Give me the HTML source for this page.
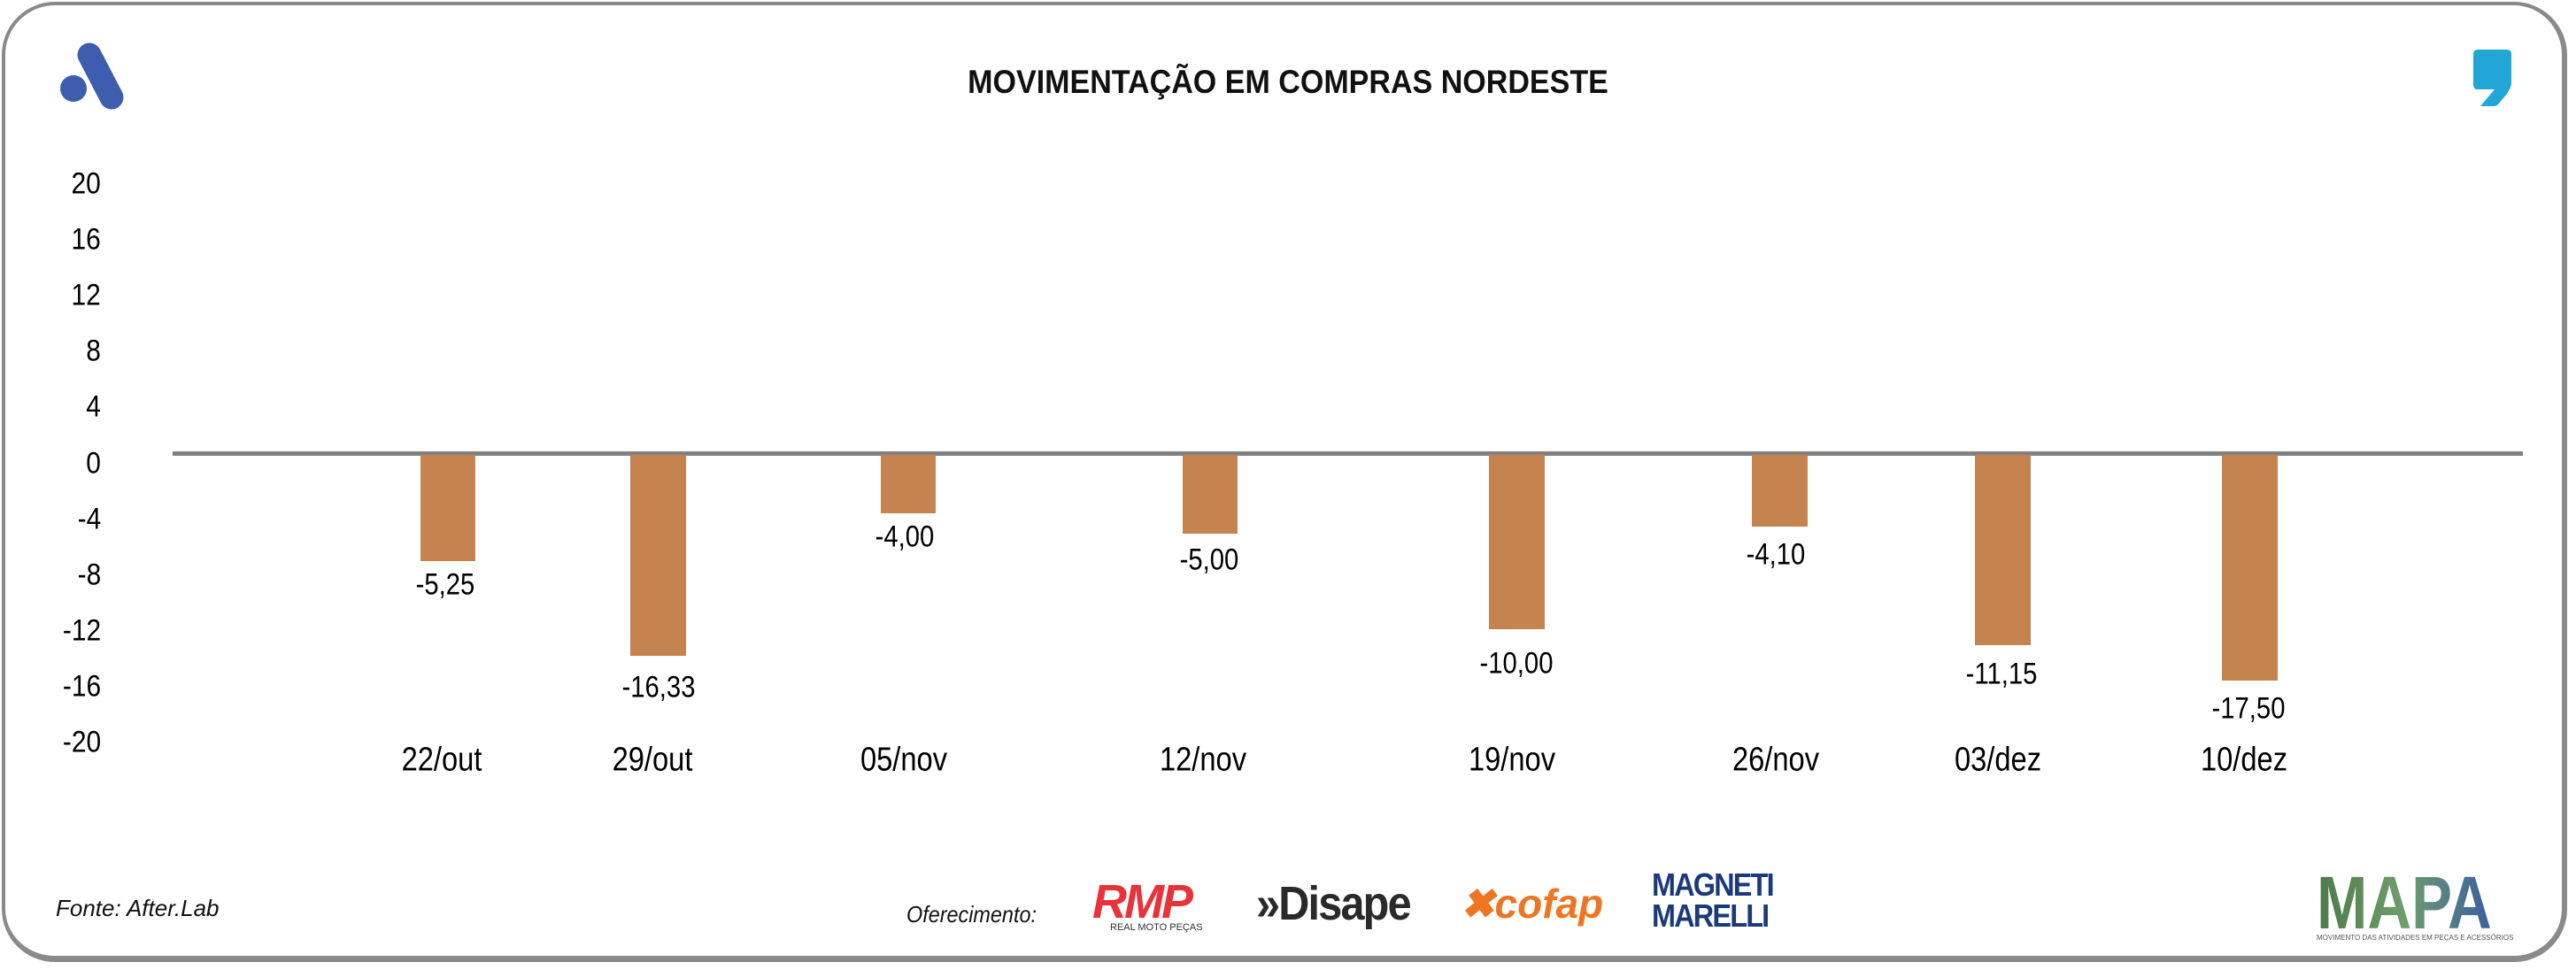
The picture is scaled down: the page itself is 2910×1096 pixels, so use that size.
<!DOCTYPE html>
<html><head><meta charset="utf-8"><style>
html,body{margin:0;padding:0;background:#fff;}
body{width:2910px;height:1096px;position:relative;overflow:hidden;font-family:"Liberation Sans Narrow","Liberation Sans",sans-serif;}
.frame{position:absolute;left:2px;top:2px;width:2898px;height:1085px;border:4px solid #8a8a8a;border-radius:60px;box-sizing:border-box;border-right-width:6px;border-bottom-width:7px;}
.t{position:absolute;white-space:nowrap;color:#111;}
.yl{position:absolute;right:2796px;font-size:34px;transform:translateY(-50%) scaleX(0.88);transform-origin:right center;}
.bar{position:absolute;background:#C4834F;top:514px;}
.vl{position:absolute;font-size:34px;transform:translate(-50%,-50%) scaleX(0.86);}
.xl{position:absolute;font-size:38px;top:859px;transform:translate(-50%,-50%) scaleX(0.86);}
</style></head><body>
<div class="frame"></div>
<svg style="position:absolute;left:0;top:0" width="2910" height="1096">
<circle cx="83" cy="100" r="15" fill="#3F5DAE"/>
<line x1="101" y1="62" x2="126" y2="110" stroke="#3F5DAE" stroke-width="27" stroke-linecap="round"/>
<path d="M2799 56 H2832 Q2837 56 2837 61 V95 Q2836 100 2832 106 L2822 118 Q2820 120 2817 120 H2802 L2818 101 H2799 Q2794 101 2794 96 V61 Q2794 56 2799 56Z" fill="#22A6D6"/>
<rect x="195" y="510" width="2655" height="5" fill="#808080"/>
</svg>
<div class="t" style="left:0;width:2910px;text-align:center;top:72px;font-size:37px;font-weight:bold;font-family:'Liberation Sans',sans-serif;transform:scaleX(0.92)">MOVIMENTAÇÃO EM COMPRAS NORDESTE</div>
<div class="yl" style="top:208px">20</div>
<div class="yl" style="top:271px">16</div>
<div class="yl" style="top:334px">12</div>
<div class="yl" style="top:397px">8</div>
<div class="yl" style="top:460px">4</div>
<div class="yl" style="top:524px">0</div>
<div class="yl" style="top:587px">-4</div>
<div class="yl" style="top:650px">-8</div>
<div class="yl" style="top:713px">-12</div>
<div class="yl" style="top:776px">-16</div>
<div class="yl" style="top:839px">-20</div>

<div class="bar" style="left:475px;width:62px;height:120px"></div>
<div class="bar" style="left:712px;width:63px;height:227px"></div>
<div class="bar" style="left:995px;width:62px;height:66px"></div>
<div class="bar" style="left:1336px;width:62px;height:89px"></div>
<div class="bar" style="left:1682px;width:63px;height:197px"></div>
<div class="bar" style="left:1979px;width:63px;height:81px"></div>
<div class="bar" style="left:2231px;width:63px;height:215px"></div>
<div class="bar" style="left:2510px;width:63px;height:255px"></div>

<div class="vl" style="left:503px;top:661px">-5,25</div>
<div class="vl" style="left:744px;top:777px">-16,33</div>
<div class="vl" style="left:1022px;top:607px">-4,00</div>
<div class="vl" style="left:1366px;top:633px">-5,00</div>
<div class="vl" style="left:1713px;top:750px">-10,00</div>
<div class="vl" style="left:2006px;top:627px">-4,10</div>
<div class="vl" style="left:2261px;top:762px">-11,15</div>
<div class="vl" style="left:2540px;top:801px">-17,50</div>

<div class="xl" style="left:499px">22/out</div>
<div class="xl" style="left:737px">29/out</div>
<div class="xl" style="left:1021px">05/nov</div>
<div class="xl" style="left:1359px">12/nov</div>
<div class="xl" style="left:1708px">19/nov</div>
<div class="xl" style="left:2006px">26/nov</div>
<div class="xl" style="left:2257px">03/dez</div>
<div class="xl" style="left:2535px">10/dez</div>

<div class="t" style="left:63px;top:1011px;font-size:26px;font-style:italic">Fonte: After.Lab</div>
<div class="t" style="left:1024px;top:1018px;font-size:26px;font-style:italic;transform:scaleX(0.9);transform-origin:left">Oferecimento:</div>
<div class="t" style="left:1234px;top:988px;font-size:54px;font-weight:bold;font-style:italic;color:#E8333A;letter-spacing:-3px">RMP</div>
<div class="t" style="left:1254px;top:1042px;font-size:11px;color:#333">REAL MOTO PEÇAS</div>
<div class="t" style="left:1419px;top:990px;font-size:54px;font-weight:bold;color:#2a2a2a;letter-spacing:-2px;transform:scaleX(0.9);transform-origin:left">»Disape</div>
<div class="t" style="left:1650px;top:994px;font-size:46px;font-weight:bold;font-style:italic;color:#EE7623">✖cofap</div>
<div class="t" style="left:1866px;top:982px;font-size:36px;font-weight:bold;color:#1B3A7A;line-height:35px;letter-spacing:-2px;transform:scaleX(0.9);transform-origin:left">MAGNETI<br>MARELLI</div>
<div class="t" style="left:2617px;top:972px;font-size:84px;font-weight:bold;letter-spacing:0px;background:linear-gradient(90deg,#4c7a4a,#6f9d6b 50%,#3b5fa0);-webkit-background-clip:text;color:transparent;transform:scaleX(0.82);transform-origin:left">MAPA</div>
<div class="t" style="left:2617px;top:1055px;font-size:8px;color:#555">MOVIMENTO DAS ATIVIDADES EM PEÇAS E ACESSÓRIOS</div>
</body></html>
